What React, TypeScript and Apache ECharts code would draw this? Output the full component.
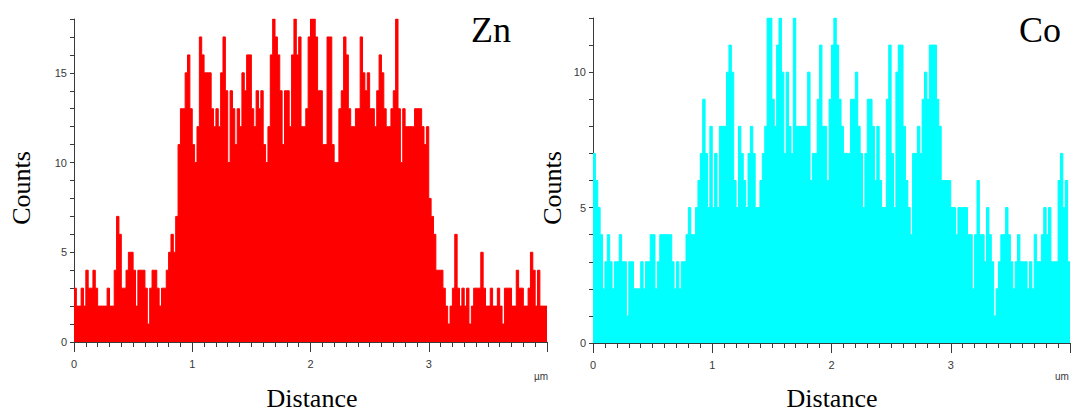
import React, { useEffect, useRef } from "react";
import * as echarts from "echarts";

// Line-scan bins (µm per bin)
const STEP_UM = 0.02;
const X_MAX_UM = 4;
const X_TICK_LABELS = [0, 1, 2, 3];
const ZN_Y_LABELS = [0, 5, 10, 15];
const CO_Y_LABELS = [0, 5, 10];
const ZN_Y_MAX = 18;
const CO_Y_MAX = 12;

const ZN_COUNTS = [
  3, 2, 2, 3, 2, 4, 3, 3, 4, 3,
  2, 2, 2, 2, 3, 2, 2, 4, 7, 6,
  3, 3, 4, 5, 5, 4, 2, 4, 4, 4,
  3, 1, 3, 4, 4, 3, 2, 3, 3, 4,
  5, 6, 5, 7, 11, 13, 13, 15, 16, 13,
  11, 10, 12, 17, 16, 15, 15, 15, 13, 12,
  13, 12, 15, 17, 14, 10, 14, 13, 11, 13,
  12, 15, 14, 16, 16, 13, 12, 14, 13, 14,
  11, 10, 12, 16, 18, 17, 16, 14, 11, 14,
  14, 12, 16, 18, 16, 17, 12, 12, 13, 17,
  18, 18, 17, 14, 14, 11, 11, 17, 17, 11,
  10, 10, 13, 14, 17, 16, 13, 12, 12, 13,
  13, 17, 15, 14, 15, 13, 13, 12, 14, 16,
  15, 13, 12, 12, 13, 14, 18, 13, 10, 13,
  12, 12, 12, 12, 13, 13, 13, 12, 11, 12,
  8, 7, 6, 4, 4, 4, 3, 2, 1, 2,
  3, 6, 3, 2, 3, 2, 3, 1, 2, 3,
  3, 3, 5, 3, 2, 2, 3, 2, 2, 3,
  2, 1, 3, 3, 3, 2, 2, 4, 3, 3,
  2, 2, 3, 5, 4, 2, 4, 2, 2, 2,
];

const CO_COUNTS = [
  7, 6, 5, 4, 2, 3, 4, 3, 2, 3,
  3, 4, 3, 3, 1, 3, 3, 2, 2, 2,
  3, 2, 3, 3, 4, 4, 2, 3, 4, 4,
  4, 4, 4, 3, 2, 3, 2, 3, 3, 4,
  5, 4, 4, 5, 6, 7, 9, 7, 5, 8,
  5, 7, 5, 8, 8, 8, 10, 11, 10, 6,
  5, 8, 7, 6, 5, 7, 8, 7, 5, 5,
  6, 7, 8, 12, 12, 9, 8, 11, 12, 10,
  7, 10, 8, 7, 12, 8, 8, 8, 8, 8,
  10, 6, 7, 7, 9, 11, 8, 8, 6, 9,
  11, 12, 11, 9, 8, 7, 7, 7, 9, 9,
  10, 8, 7, 5, 7, 9, 9, 8, 6, 8,
  6, 5, 5, 9, 11, 7, 5, 10, 11, 11,
  8, 6, 5, 4, 7, 7, 8, 7, 9, 10,
  9, 11, 11, 11, 9, 8, 6, 6, 6, 6,
  5, 5, 4, 5, 5, 5, 5, 4, 4, 2,
  4, 6, 4, 4, 3, 5, 4, 3, 1, 2,
  3, 4, 4, 5, 4, 3, 2, 3, 4, 3,
  3, 3, 2, 3, 2, 4, 3, 3, 4, 5,
  4, 5, 3, 3, 3, 6, 7, 5, 6, 3,
];

function toSteps(counts: number[]): number[][] {
  const pts = counts.map((v, i) => [Number((i * STEP_UM).toFixed(4)), v]);
  pts.push([Number((counts.length * STEP_UM).toFixed(4)), counts[counts.length - 1]]);
  return pts;
}

const AXIS_COLOR = "#3a3a3a";
const SERIF = "'Liberation Serif', 'Times New Roman', serif";
const SANS = "'Liberation Sans', Arial, sans-serif";

function xAxisOpt(gridIndex: number) {
  return {
    type: "value",
    gridIndex,
    min: 0,
    max: X_MAX_UM,
    interval: 1,
    axisLine: { show: true, lineStyle: { color: AXIS_COLOR, width: 1 } },
    axisTick: { show: true, length: 10, lineStyle: { color: AXIS_COLOR } },
    minorTick: { show: true, splitNumber: 10, length: 5, lineStyle: { color: AXIS_COLOR } },
    splitLine: { show: false },
    minorSplitLine: { show: false },
    axisLabel: {
      formatter: (v: number) => (X_TICK_LABELS.includes(v) ? String(v) : ""),
      margin: 16,
      fontSize: 11,
      color: AXIS_COLOR,
      fontFamily: SANS,
    },
  };
}

function yAxisOpt(gridIndex: number, max: number, labels: number[]) {
  return {
    type: "value",
    gridIndex,
    min: 0,
    max,
    interval: 1,
    axisLine: { show: true, lineStyle: { color: AXIS_COLOR, width: 1 } },
    axisTick: { show: true, length: 4, lineStyle: { color: AXIS_COLOR } },
    splitLine: { show: false },
    axisLabel: {
      interval: 0,
      formatter: (v: number) => (labels.includes(v) ? String(v) : ""),
      margin: 7,
      fontSize: 11,
      color: AXIS_COLOR,
      fontFamily: SANS,
    },
  };
}

function stepSeries(counts: number[], idx: number, color: string) {
  return {
    type: "line",
    xAxisIndex: idx,
    yAxisIndex: idx,
    step: "end",
    data: toSteps(counts),
    showSymbol: false,
    symbol: "none",
    lineStyle: { color, width: 1 },
    areaStyle: { color, opacity: 1 },
    itemStyle: { color },
  };
}

export default function App() {
  const ref = useRef<HTMLDivElement>(null);
  useEffect(() => {
    if (!ref.current) return;
    const chart = echarts.init(ref.current, undefined, { renderer: "svg" });
    chart.setOption({
      animation: false,
      backgroundColor: "#ffffff",
      grid: [
        { left: 74, top: 19, width: 473, height: 323 },
        { left: 593, top: 18, width: 477, height: 325 },
      ],
      xAxis: [xAxisOpt(0), xAxisOpt(1)],
      yAxis: [yAxisOpt(0, ZN_Y_MAX, ZN_Y_LABELS), yAxisOpt(1, CO_Y_MAX, CO_Y_LABELS)],
      series: [stepSeries(ZN_COUNTS, 0, "#ff0000"), stepSeries(CO_COUNTS, 1, "#00ffff")],
      graphic: [
        { type: "text", x: 21, y: 188, rotation: Math.PI / 2, style: { text: "Counts", font: `26px ${SERIF}`, fill: "#000", align: "center", verticalAlign: "middle" } },
        { type: "text", x: 552, y: 188, rotation: Math.PI / 2, style: { text: "Counts", font: `26px ${SERIF}`, fill: "#000", align: "center", verticalAlign: "middle" } },
        { type: "text", x: 312, y: 398, style: { text: "Distance", font: `26px ${SERIF}`, fill: "#000", align: "center", verticalAlign: "middle" } },
        { type: "text", x: 832, y: 398, style: { text: "Distance", font: `26px ${SERIF}`, fill: "#000", align: "center", verticalAlign: "middle" } },
        { type: "text", x: 491, y: 30, style: { text: "Zn", font: `36px ${SERIF}`, fill: "#000", align: "center", verticalAlign: "middle" } },
        { type: "text", x: 1040, y: 30, style: { text: "Co", font: `36px ${SERIF}`, fill: "#000", align: "center", verticalAlign: "middle" } },
        { type: "text", x: 541, y: 376, style: { text: "µm", font: `10px ${SANS}`, fill: AXIS_COLOR, align: "center", verticalAlign: "middle" } },
        { type: "text", x: 1062, y: 376, style: { text: "um", font: `10px ${SANS}`, fill: AXIS_COLOR, align: "center", verticalAlign: "middle" } },
      ],
    });
    return () => chart.dispose();
  }, []);
  return (
    <div
      ref={ref}
      style={{ position: "fixed", left: 0, top: 0, width: 1074, height: 413, background: "#fff" }}
    />
  );
}
